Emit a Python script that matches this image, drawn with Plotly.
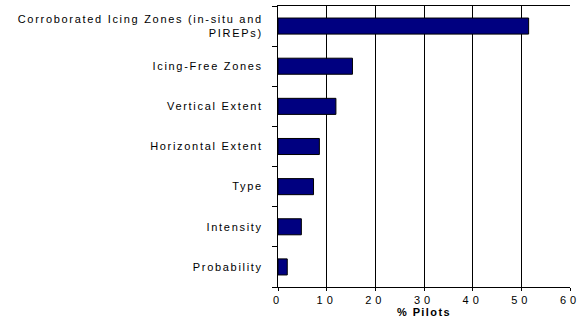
import plotly.graph_objects as go

categories = [
    "Corroborated Icing Zones (in-situ and<br>PIREPs)",
    "Icing-Free Zones",
    "Vertical Extent",
    "Horizontal Extent",
    "Type",
    "Intensity",
    "Probability",
]
values = [51.5, 15.3, 11.9, 8.5, 7.3, 4.8, 1.9]
x_ticks = [0, 10, 20, 30, 40, 50, 60]

fig = go.Figure(go.Bar(
    x=values,
    y=categories,
    orientation="h",
    width=0.4,
    marker=dict(color="#000080", line=dict(color="#000000", width=1)),
))

fig.update_layout(
    width=585, height=326,
    margin=dict(l=278, r=15, t=6, b=39),
    paper_bgcolor="white", plot_bgcolor="white",
    font=dict(family="Liberation Sans, Arial, sans-serif", size=11, color="#000000"),
    showlegend=False,
)
fig.update_xaxes(
    range=[0, 60], tickvals=x_ticks,
    showgrid=True, gridcolor="#000000", gridwidth=1,
    showline=True, linecolor="#000000", linewidth=1, mirror=True,
    ticks="outside", ticklen=3, tickcolor="#000000",
    tickfont=dict(size=11),
    zeroline=False,
    automargin=False,
    title=dict(text="<b>% Pilots</b>", font=dict(size=11), standoff=3),
)
fig.update_yaxes(
    categoryorder="array", categoryarray=categories[::-1],
    showline=True, linecolor="#000000", linewidth=1,
    ticks="outside", ticklen=5, tickcolor="#000000",
    tickson="boundaries",
    ticklabelstandoff=12,
    tickfont=dict(size=11),
    automargin=False,
    showgrid=False,
)

post = """
document.body.style.margin = '0';
function spaceText() {
  document.querySelectorAll('.ytick text').forEach(function(t){ t.style.letterSpacing = '1.7px'; });
  document.querySelectorAll('.xtick text').forEach(function(t){ t.style.letterSpacing = '4px'; });
  document.querySelectorAll('.xtitle').forEach(function(t){ t.style.letterSpacing = '1.4px'; });
}
spaceText();
setTimeout(spaceText, 50);
setTimeout(spaceText, 300);
"""

fig.write_html("out.html", post_script=post, config={"displayModeBar": False})
